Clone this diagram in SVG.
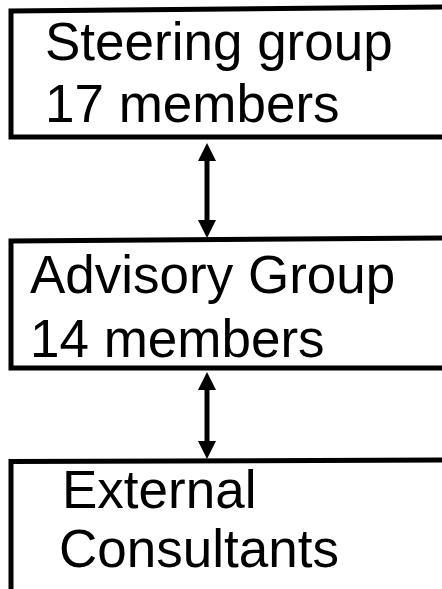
<svg xmlns="http://www.w3.org/2000/svg" width="442" height="589" viewBox="0 0 442 589">
<style>
.box{fill:#fff;stroke:#000;stroke-width:5}
.lbl{font-family:"Liberation Sans",Arial,sans-serif;font-size:53px;fill:#000}
.conn{stroke:#000;stroke-width:5;fill:none}
</style>
<defs>
<marker id="ah" viewBox="0 0 18 18" markerWidth="18" markerHeight="18" refX="0" refY="9" orient="auto-start-reverse" markerUnits="userSpaceOnUse">
<path d="M0,0 L18,9 L0,18 z" fill="#000"/>
</marker>
</defs>
<rect width="442" height="589" fill="#fff"/>
<g id="steering">
<path class="box" d="M450,7 L11,11 L11,137 L450,137"/>
<text class="lbl" x="45" y="60">Steering group</text>
<text class="lbl" x="45" y="122">17 members</text>
</g>
<g id="advisory">
<path class="box" d="M450,238 L11,241 L11,368 L450,368"/>
<text class="lbl" x="30" y="293">Advisory Group</text>
<text class="lbl" x="30" y="357">14 members</text>
</g>
<g id="external">
<path class="box" d="M450,460 L11,461.5 L11,600 L450,600"/>
<text class="lbl" x="62" y="508">External</text>
<text class="lbl" x="59" y="567">Consultants</text>
</g>
<g id="connectors">
<line class="conn" x1="207" y1="161" x2="207" y2="220" marker-start="url(#ah)" marker-end="url(#ah)"/>
<line class="conn" x1="207" y1="390" x2="207" y2="441" marker-start="url(#ah)" marker-end="url(#ah)"/>
</g>
</svg>
